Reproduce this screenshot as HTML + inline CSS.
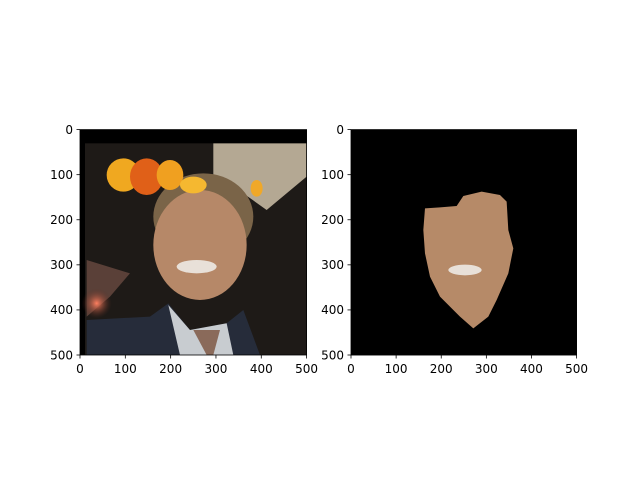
<!DOCTYPE html>
<html><head><meta charset="utf-8"><style>
html,body{margin:0;padding:0;background:#fff;}
svg text{font-family:"DejaVu Sans","Liberation Sans",sans-serif;font-size:12px;fill:#000;}
</style></head><body>
<svg width="640" height="480" viewBox="0 0 640 480">
<defs>
<clipPath id="cl"><rect x="120" y="60" width="680" height="675"/></clipPath>
<radialGradient id="glow"><stop offset="0" stop-color="#ff8060"/><stop offset="1" stop-color="#5a2a20" stop-opacity="0"/></radialGradient>
</defs>
<g id="left-image" transform="translate(40,110) scale(0.3333)" clip-path="url(#cl)">
  <rect x="120" y="60" width="680" height="675" fill="#000"/>
  <rect x="135" y="100" width="665" height="635" fill="#1e1a17"/>
  <polygon points="520,100 800,100 800,200 680,300 610,250 520,210" fill="#b4a893"/>
  <polygon points="140,450 270,490 210,560 140,620" fill="#5a4038"/>
  <circle cx="170" cy="580" r="45" fill="url(#glow)"/>
  <ellipse cx="490" cy="320" rx="150" ry="130" fill="#7a6448"/>
  <ellipse cx="480" cy="405" rx="140" ry="165" fill="#b68868"/>
  <ellipse cx="470" cy="470" rx="60" ry="20" fill="#e8e0d8"/>
  <polygon points="140,630 330,620 385,580 450,660 560,640 610,600 660,735 140,735" fill="#262c3a"/>
  <polygon points="385,585 450,660 560,640 580,735 420,735" fill="#c8ccd0"/>
  <polygon points="460,660 540,660 520,735 500,735" fill="#8a6a5a"/>
  <ellipse cx="250" cy="195" rx="50" ry="50" fill="#f0a820"/>
  <ellipse cx="320" cy="200" rx="50" ry="55" fill="#e06018"/>
  <ellipse cx="390" cy="195" rx="40" ry="45" fill="#f0a020"/>
  <ellipse cx="460" cy="225" rx="40" ry="25" fill="#f5b830"/>
  <ellipse cx="650" cy="235" rx="18" ry="25" fill="#f0a828"/>
</g>
<g id="right-image" transform="translate(340,120) scale(0.3333)">
  <rect x="33" y="29" width="678" height="677" fill="#000"/>
  <polygon points="255,265 300,262 350,258 370,228 425,215 480,225 500,245 505,330 520,385 505,460 470,540 445,590 400,625 360,590 300,530 270,470 255,400 250,330" fill="#b68a68"/>
  <ellipse cx="375" cy="450" rx="50" ry="16" fill="#e8e0d8"/>
</g>
<g fill="none" stroke="#000" stroke-width="0.8">
  <rect x="80" y="129.6" width="226.6" height="225.4"/>
</g>
<g fill="none" stroke="#000" stroke-width="0.8">
  <rect x="351" y="129.6" width="225.6" height="225.4"/>
</g>
<g id="ticks"></g>
<script>
const tickValues=[0,100,200,300,400,500];
const axes=[{x0:80,w:226.6,name:'left'},{x0:351,w:225.6,name:'right'}];
const y0=129.6,h=225.4;
const g=document.getElementById('ticks');
const ns='http://www.w3.org/2000/svg';
axes.forEach(a=>{
  tickValues.forEach(v=>{
    const x=a.x0+v/500*a.w, y=y0+v/500*h;
    let l=document.createElementNS(ns,'line');
    l.setAttribute('x1',x);l.setAttribute('x2',x);l.setAttribute('y1',y0+h);l.setAttribute('y2',y0+h+3.5);
    l.setAttribute('stroke','#000');l.setAttribute('stroke-width','0.8');
    
    
    g.appendChild(l);
    let t=document.createElementNS(ns,'text');
    t.setAttribute('x',x);t.setAttribute('y',y0+h+18);t.setAttribute('text-anchor','middle');
    t.textContent=v;
    
    
    g.appendChild(t);
    let l2=document.createElementNS(ns,'line');
    l2.setAttribute('x1',a.x0-3.5);l2.setAttribute('x2',a.x0);l2.setAttribute('y1',y);l2.setAttribute('y2',y);
    l2.setAttribute('stroke','#000');l2.setAttribute('stroke-width','0.8');
    
    
    g.appendChild(l2);
    let t2=document.createElementNS(ns,'text');
    t2.setAttribute('x',a.x0-7);t2.setAttribute('y',y+4.3);t2.setAttribute('text-anchor','end');
    t2.textContent=v;
    
    
    g.appendChild(t2);
  });
});
</script>
</svg>
</body></html>
